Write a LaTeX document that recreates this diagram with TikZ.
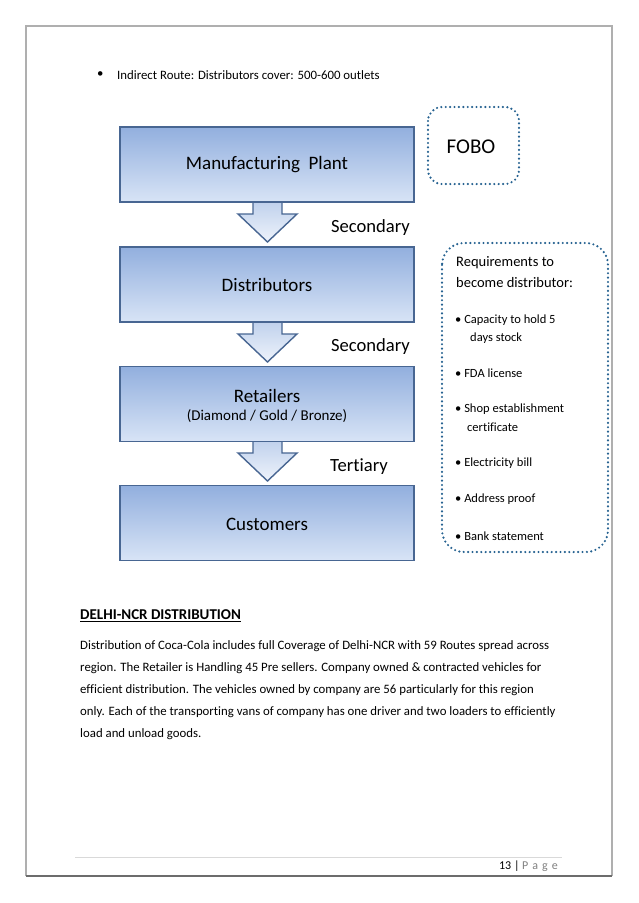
\documentclass[tikz,border=0pt]{standalone}
\usepackage{fontspec}
\setmainfont{Carlito}[Ligatures=NoCommon]
\usetikzlibrary{calc}
\definecolor{boxtop}{RGB}{146,175,222}
\definecolor{boxbot}{RGB}{216,228,246}
\definecolor{boxline}{RGB}{72,102,146}
\definecolor{arrtop}{RGB}{190,208,236}
\definecolor{arrbot}{RGB}{238,243,251}
\definecolor{dotblue}{RGB}{38,98,145}
\definecolor{pageline}{RGB}{175,175,175}
\tikzset{
  stagebox/.style={draw=boxline, line width=1.6pt, top color=boxtop, bottom color=boxbot,
    minimum width=294, minimum height=75, inner sep=0pt, align=center},
  blockarrow/.style={draw=boxline, line width=1.4pt, top color=arrtop, bottom color=arrbot, line join=miter},
  dotbox/.style={draw=dotblue, line width=2.4pt, dash pattern=on 0pt off 4.4pt, line cap=round, rounded corners=14},
  lbl/.style={font=\fontsize{18.6}{20}\selectfont, inner sep=0pt},
  boxtxt/.style={font=\fontsize{19}{21}\selectfont, inner sep=0pt},
  req/.style={font=\fontsize{12.5}{15}\selectfont, anchor=west, inner sep=0pt},
  body/.style={font=\fontsize{12.8}{15}\selectfont, anchor=west, inner sep=0pt},
}
\begin{document}
\begin{tikzpicture}[x=1pt,y=-1pt]
\useasboundingbox (0,0) rectangle (638,903);
% page frame
\draw[pageline, line width=1.6pt] (25.7,876) -- (25.7,25.7) -- (612,25.7) -- (612,876);
\draw[gray!85!black, line width=1.1pt] (25.7,876) -- (612,876);
% top bullet
\node[body] (bul) at (97,75) {•};
\node[body] (intro) at (117,75) {Indirect Route: Distributors cover: 500-600 outlets};
% arrows (drawn first so boxes overlap their tops)
\coordinate (a1) at (267.5,202);
\coordinate (a2) at (267.5,322);
\coordinate (a3) at (267.5,441);
\foreach \a in {a1, a2, a3}{
  \draw[blockarrow] ($(\a)+(-14.5,-2)$) -- ($(\a)+(-14.5,12)$) -- ($(\a)+(-29.5,12)$)
     -- ($(\a)+(0,40)$) -- ($(\a)+(29.5,12)$) -- ($(\a)+(14.5,12)$) -- ($(\a)+(14.5,-2)$);
}
% stage boxes
\node[stagebox] (mp) at (267,164.5) {};
\node[stagebox] (dist) at (267,284.5) {};
\node[stagebox] (ret) at (267,404) {};
\node[stagebox] (cust) at (267,523) {};
\node[boxtxt] (mpt) at (267,165) {Manufacturing\ \ Plant};
\node[boxtxt] (distt) at (267,285) {Distributors};
\node[boxtxt] (rett) at (267,396) {Retailers};
\node[font=\fontsize{15}{17}\selectfont, inner sep=0pt] (retsub) at (267,416) {(Diamond / Gold / Bronze)};
\node[boxtxt] (custt) at (267,524) {Customers};
% arrow labels
\node[lbl, anchor=east] (s1) at (410,228) {Secondary};
\node[lbl, anchor=east] (s2) at (410,347) {Secondary};
\node[lbl, anchor=west] (t1) at (330,467) {Tertiary};
% FOBO box
\draw[dotbox] (428,107) rectangle (519,184);
\node[font=\fontsize{21}{23}\selectfont, inner sep=0pt] (fobo) at (471,147) {FOBO};
% requirements box
\draw[dotbox, rounded corners=22] (442,243) rectangle (608,552);
\node[req, font=\fontsize{14.5}{17}\selectfont] (r0) at (456,263) {Requirements to};
\node[req, font=\fontsize{14.5}{17}\selectfont] (r0b) at (456,283) {become distributor:};
\node[req] (r1) at (455,320) {• Capacity to hold 5};
\node[req] (r1b) at (470,338) {days stock};
\node[req] (r2) at (455,373) {• FDA license};
\node[req] (r3) at (455,409) {• Shop establishment};
\node[req] (r3b) at (467,427) {certificate};
\node[req] (r4) at (455,463) {• Electricity bill};
\node[req] (r5) at (455,499) {• Address proof};
\node[req] (r6) at (455,536) {• Bank statement};
% section text
\node[body, font=\fontsize{15}{17}\bfseries\selectfont] (head) at (80,616) {\underline{DELHI-NCR DISTRIBUTION}};
\node[body] (p1) at (80,646) {Distribution of Coca-Cola includes full Coverage of Delhi-NCR with 59 Routes spread across};
\node[body] (p2) at (80,668) {region. The Retailer is Handling 45 Pre sellers. Company owned \& contracted vehicles for};
\node[body] (p3) at (80,690) {efficient distribution. The vehicles owned by company are 56 particularly for this region};
\node[body] (p4) at (80,712) {only. Each of the transporting vans of company has one driver and two loaders to efficiently};
\node[body] (p5) at (80,734) {load and unload goods.};
% footer
\draw[gray!30, line width=0.8pt] (75,857) -- (562,857);
\node[body, anchor=east, font=\fontsize{12}{14}\selectfont] (pg) at (558,866) {13 | {\color{gray}P\,\,a\,\,g\,\,e}};
\end{tikzpicture}
\end{document}
